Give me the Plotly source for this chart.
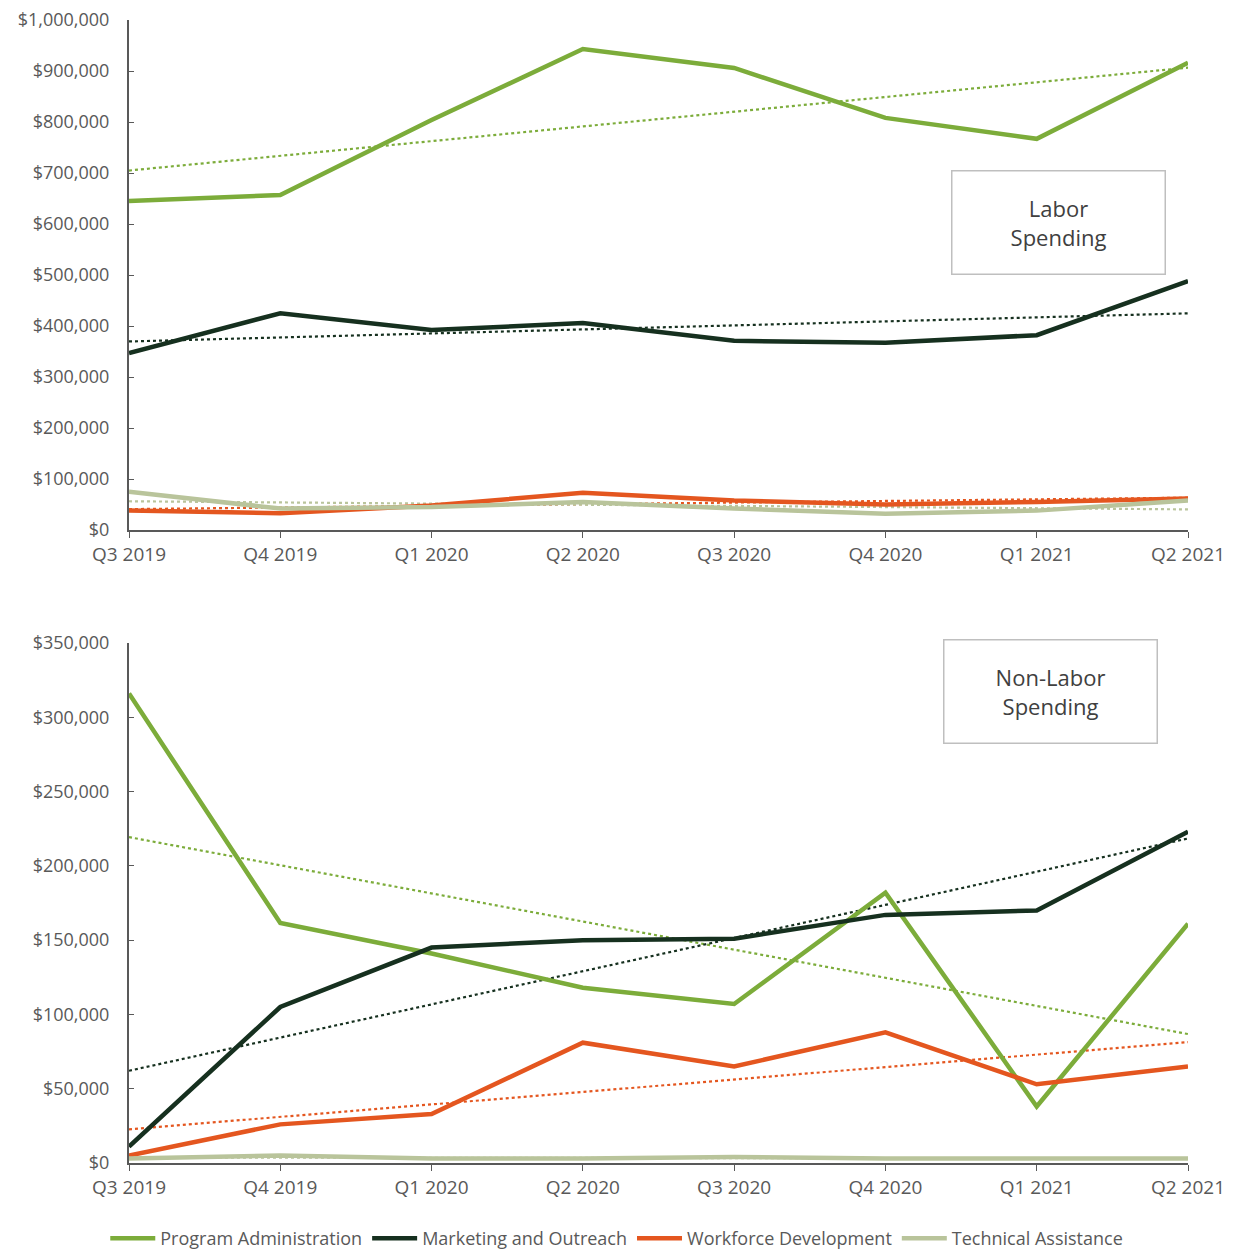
import numpy as np
import plotly.graph_objects as go
from plotly.subplots import make_subplots

quarters = ["Q3 2019", "Q4 2019", "Q1 2020", "Q2 2020", "Q3 2020", "Q4 2020", "Q1 2021", "Q2 2021"]
series_names = ["Program Administration", "Marketing and Outreach", "Workforce Development", "Technical Assistance"]

labor_program_admin = [645000, 657000, 804000, 943000, 906000, 808000, 767000, 916000]
labor_marketing = [347000, 425000, 392000, 406000, 371000, 367000, 382000, 488000]
labor_workforce = [38000, 33000, 48000, 73000, 58000, 50000, 55000, 62000]
labor_technical = [75000, 42000, 45000, 55000, 42000, 32000, 38000, 58000]

nonlabor_program_admin = [316000, 161500, 141000, 118000, 107000, 182000, 38000, 161000]
nonlabor_marketing = [11000, 105000, 145000, 150000, 151000, 167000, 170000, 223000]
nonlabor_workforce = [5000, 26000, 33000, 81000, 65000, 88000, 53000, 65000]
nonlabor_technical = [3000, 5000, 3000, 3000, 4000, 3000, 3000, 3000]

colors = ["#7cac3a", "#16301f", "#e4561f", "#b9c49b"]

x = np.arange(len(quarters))

fig = make_subplots(rows=2, cols=1, vertical_spacing=0.0)

def add_panel(row, values_list, showlegend):
    for name, vals, col in zip(series_names, values_list, colors):
        slope, intercept = np.polyfit(x, np.array(vals, dtype=float), 1)
        fig.add_trace(go.Scatter(x=x, y=slope * x + intercept, mode="lines",
                                 line=dict(color=col, width=2.2, dash="dot"),
                                 showlegend=False, hoverinfo="skip", cliponaxis=False),
                      row=row, col=1)
    for name, vals, col in zip(series_names, values_list, colors):
        fig.add_trace(go.Scatter(x=x, y=vals, mode="lines", name=name,
                                 line=dict(color=col, width=4.5),
                                 showlegend=showlegend, cliponaxis=False),
                      row=row, col=1)

add_panel(1, [labor_program_admin, labor_marketing, labor_workforce, labor_technical], True)
add_panel(2, [nonlabor_program_admin, nonlabor_marketing, nonlabor_workforce, nonlabor_technical], False)

tick_font = dict(family="Open Sans", size=18, color="#595959")

H = 1251
top_d = [1 - (530 - 20) / (H - 20 - 88), 1]
bot_d = [0, 1 - (643 - 20) / (H - 20 - 88)]

fig.update_layout(
    width=1241, height=1251,
    margin=dict(l=129, r=53, t=20, b=88, autoexpand=False),
    paper_bgcolor="white", plot_bgcolor="white",
    font=dict(family="Open Sans", color="#595959"),
    legend=dict(orientation="h", xref="container", yref="container",
                x=0.497, y=1 - 1220 / 1251, xanchor="center", yanchor="top",
                font=dict(family="Open Sans", size=18, color="#595959"),
                itemwidth=45, tracegroupgap=0),
    yaxis=dict(domain=top_d, range=[0, 1000000], dtick=100000, tickformat="$,.0f",
               showgrid=False, zeroline=False, showline=True, linecolor="#595959", linewidth=2,
               ticks="inside", ticklen=5, tickcolor="#595959", tickfont=tick_font,
               ticklabelstandoff=14, automargin=False),
    yaxis2=dict(domain=bot_d, range=[0, 350000], dtick=50000, tickformat="$,.0f",
                showgrid=False, zeroline=False, showline=True, linecolor="#595959", linewidth=2,
                ticks="inside", ticklen=5, tickcolor="#595959", tickfont=tick_font,
                ticklabelstandoff=14, automargin=False),
)
for ax in ["xaxis", "xaxis2"]:
    fig.layout[ax].update(range=[0, 7], tickvals=list(x), ticktext=quarters,
                          showgrid=False, zeroline=False, showline=True, linecolor="#595959",
                          linewidth=2, ticks="outside", ticklen=6, tickcolor="#595959",
                          automargin=False,
                          tickfont=dict(family="Open Sans", size=19, color="#595959"))

fig.add_annotation(xref="x", yref="y", x=6.147, y=602000, text="Labor<br>Spending",
                   showarrow=False, font=dict(family="Open Sans", size=22, color="#404040"),
                   width=208, height=98, bordercolor="#bfbfbf", borderwidth=1.5, borderpad=2,
                   bgcolor="white", align="center")
fig.add_annotation(xref="x2", yref="y2", x=6.09, y=317300, text="Non-Labor<br>Spending",
                   showarrow=False, font=dict(family="Open Sans", size=22, color="#404040"),
                   width=208, height=98, bordercolor="#bfbfbf", borderwidth=1.5, borderpad=2,
                   bgcolor="white", align="center")

fig.write_html("out.html", config={"displayModeBar": False},
               post_script="document.body.style.margin='0';document.body.style.overflow='hidden';")
